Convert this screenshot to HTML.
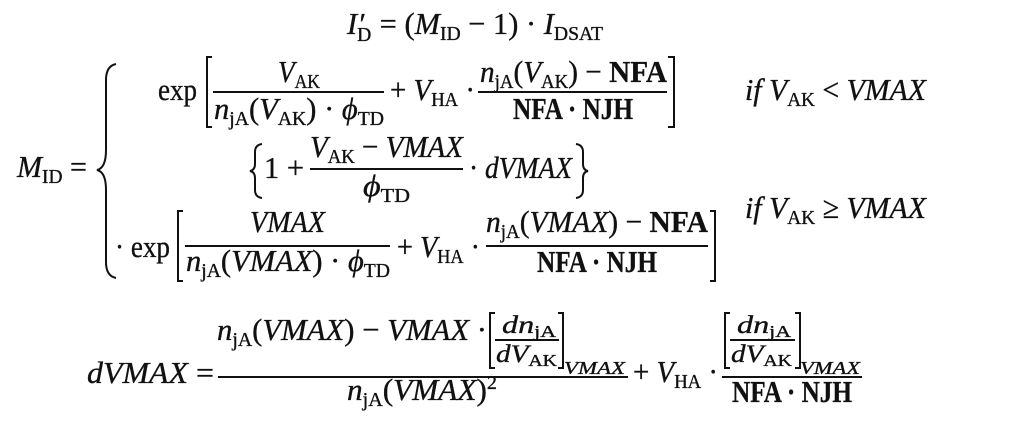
<!DOCTYPE html>
<html><head><meta charset="utf-8"><style>
html,body{margin:0;padding:0;background:#fff;}
svg{display:block;}
text{font-family:"Liberation Serif","DejaVu Serif",serif;font-size:31px;fill:#111;stroke:#111;stroke-width:0.35px;}
.i{font-style:italic;}
.b{font-weight:bold;}
.s{font-size:20px;font-style:normal;}
.sf{font-size:25px;}
.ss{font-size:17px;font-style:normal;}
</style></head><body>
<svg width="1013" height="427" viewBox="0 0 1013 427" xmlns="http://www.w3.org/2000/svg">
<g stroke="#111" stroke-width="2" fill="none">
 <path d="M116 64 Q106 66 106 80 L106 150 Q106 168 97 170 Q106 172 106 190 L106 262 Q106 276 116 278"/>
 <path d="M212 57 L207 57 L207 127 L212 127"/>
 <path d="M668 57 L674 57 L674 127 L668 127"/>
 <path d="M262 144 Q255 145 255 152 L255 164 Q255 170 250 171 Q255 172 255 178 L255 190 Q255 197 262 198"/>
 <path d="M576 144 Q583 145 583 152 L583 164 Q583 170 588 171 Q583 172 583 178 L583 190 Q583 197 576 198"/>
 <path d="M183 211 L178 211 L178 281 L183 281"/>
 <path d="M710 211 L715 211 L715 281 L710 281"/>
 <line x1="213" y1="92" x2="384" y2="92"/>
 <line x1="478" y1="92" x2="667" y2="92"/>
 <line x1="310" y1="169" x2="463" y2="169"/>
 <line x1="185" y1="246" x2="390" y2="246"/>
 <line x1="486" y1="246" x2="708" y2="246"/>
 <line x1="218" y1="377" x2="628" y2="377"/>
 <line x1="722" y1="377" x2="862" y2="377"/>
 <line x1="495" y1="340" x2="559" y2="340"/>
 <path d="M495 313 L490 313 L490 368 L495 368"/>
 <path d="M558 313 L563 313 L563 368 L558 368"/>
 <line x1="730" y1="340" x2="795" y2="340"/>
 <path d="M730 313 L725 313 L725 368 L730 368"/>
 <path d="M795 313 L800 313 L800 368 L795 368"/>
</g>

<text x="347" y="34" textLength="256" lengthAdjust="spacingAndGlyphs"><tspan class="i">I</tspan><tspan class="s i" dy="7">D</tspan><tspan dy="-7" dx="-12">′</tspan><tspan dx="6"> = (</tspan><tspan class="i">M</tspan><tspan class="s" dy="6">ID</tspan><tspan dy="-6"> − 1) · </tspan><tspan class="i">I</tspan><tspan class="s" dy="6">DSAT</tspan></text>

<text x="17" y="177" textLength="70" lengthAdjust="spacingAndGlyphs"><tspan class="i">M</tspan><tspan class="s" dy="6">ID</tspan><tspan dy="-6"> =</tspan></text>

<!-- row 1 -->
<text x="158" y="100" textLength="39" lengthAdjust="spacingAndGlyphs">exp</text>
<text x="278" y="82" textLength="42" lengthAdjust="spacingAndGlyphs"><tspan class="i">V</tspan><tspan class="s" dy="6">AK</tspan></text>
<text x="214" y="119" textLength="170" lengthAdjust="spacingAndGlyphs"><tspan class="i">n</tspan><tspan class="s" dy="6">jA</tspan><tspan dy="-6">(</tspan><tspan class="i">V</tspan><tspan class="s" dy="6">AK</tspan><tspan dy="-6">) · </tspan><tspan class="i">ϕ</tspan><tspan class="s" dy="6">TD</tspan></text>
<text x="390" y="100" textLength="85" lengthAdjust="spacingAndGlyphs">+ <tspan class="i">V</tspan><tspan class="s" dy="6">HA</tspan><tspan dy="-6"> ·</tspan></text>
<text x="480" y="82" textLength="187" lengthAdjust="spacingAndGlyphs"><tspan class="i">n</tspan><tspan class="s" dy="6">jA</tspan><tspan dy="-6">(</tspan><tspan class="i">V</tspan><tspan class="s" dy="6">AK</tspan><tspan dy="-6">) − </tspan><tspan class="b">NFA</tspan></text>
<text x="513" y="119" class="b" textLength="120" lengthAdjust="spacingAndGlyphs">NFA · NJH</text>
<text x="745" y="100" textLength="181" lengthAdjust="spacingAndGlyphs"><tspan class="i">if V</tspan><tspan class="s" dy="6">AK</tspan><tspan dy="-6"> &lt; </tspan><tspan class="i">VMAX</tspan></text>

<!-- row 2 -->
<text x="264" y="178" textLength="40" lengthAdjust="spacingAndGlyphs">1 +</text>
<text x="310" y="157" textLength="153" lengthAdjust="spacingAndGlyphs"><tspan class="i">V</tspan><tspan class="s" dy="6">AK</tspan><tspan dy="-6"> − </tspan><tspan class="i">VMAX</tspan></text>
<text x="363" y="196" textLength="47" lengthAdjust="spacingAndGlyphs"><tspan class="i">ϕ</tspan><tspan class="s" dy="6">TD</tspan></text>
<text x="469" y="178" textLength="103" lengthAdjust="spacingAndGlyphs">· <tspan class="i">dVMAX</tspan></text>

<!-- row 3 -->
<text x="115" y="257" textLength="55" lengthAdjust="spacingAndGlyphs">· exp</text>
<text x="250" y="232" class="i" textLength="75" lengthAdjust="spacingAndGlyphs">VMAX</text>
<text x="186" y="271" textLength="204" lengthAdjust="spacingAndGlyphs"><tspan class="i">n</tspan><tspan class="s" dy="6">jA</tspan><tspan dy="-6">(</tspan><tspan class="i">VMAX</tspan><tspan>) · </tspan><tspan class="i">ϕ</tspan><tspan class="s" dy="6">TD</tspan></text>
<text x="397" y="257" textLength="83" lengthAdjust="spacingAndGlyphs">+ <tspan class="i">V</tspan><tspan class="s" dy="6">HA</tspan><tspan dy="-6"> ·</tspan></text>
<text x="486" y="232" textLength="222" lengthAdjust="spacingAndGlyphs"><tspan class="i">n</tspan><tspan class="s" dy="6">jA</tspan><tspan dy="-6">(</tspan><tspan class="i">VMAX</tspan><tspan>) − </tspan><tspan class="b">NFA</tspan></text>
<text x="537" y="272" class="b" textLength="120" lengthAdjust="spacingAndGlyphs">NFA · NJH</text>
<text x="745" y="218" textLength="181" lengthAdjust="spacingAndGlyphs"><tspan class="i">if V</tspan><tspan class="s" dy="6">AK</tspan><tspan dy="-6"> ≥ </tspan><tspan class="i">VMAX</tspan></text>

<!-- bottom -->
<text x="87" y="383" textLength="127" lengthAdjust="spacingAndGlyphs"><tspan class="i">dVMAX</tspan> =</text>
<text x="217" y="340" textLength="270" lengthAdjust="spacingAndGlyphs"><tspan class="i">n</tspan><tspan class="s" dy="6">jA</tspan><tspan dy="-6">(</tspan><tspan class="i">VMAX</tspan><tspan>) − </tspan><tspan class="i">VMAX</tspan><tspan> ·</tspan></text>
<text x="502" y="333" class="sf" textLength="54" lengthAdjust="spacingAndGlyphs"><tspan class="i">dn</tspan><tspan class="ss" dy="4">jA</tspan></text>
<text x="496" y="362" class="sf" textLength="61" lengthAdjust="spacingAndGlyphs"><tspan class="i">dV</tspan><tspan class="ss" dy="4">AK</tspan></text>
<text x="564" y="374" class="i" style="font-size:18px" textLength="61" lengthAdjust="spacingAndGlyphs">VMAX</text>
<text x="347" y="400" textLength="150" lengthAdjust="spacingAndGlyphs"><tspan class="i">n</tspan><tspan class="s" dy="6">jA</tspan><tspan dy="-6">(</tspan><tspan class="i">VMAX</tspan><tspan>)</tspan><tspan class="s" dy="-11">2</tspan></text>
<text x="633" y="382" textLength="85" lengthAdjust="spacingAndGlyphs">+ <tspan class="i">V</tspan><tspan class="s" dy="6">HA</tspan><tspan dy="-6"> ·</tspan></text>
<text x="737" y="333" class="sf" textLength="54" lengthAdjust="spacingAndGlyphs"><tspan class="i">dn</tspan><tspan class="ss" dy="4">jA</tspan></text>
<text x="731" y="362" class="sf" textLength="61" lengthAdjust="spacingAndGlyphs"><tspan class="i">dV</tspan><tspan class="ss" dy="4">AK</tspan></text>
<text x="800" y="374" class="i" style="font-size:18px" textLength="60" lengthAdjust="spacingAndGlyphs">VMAX</text>
<text x="732" y="402" class="b" textLength="120" lengthAdjust="spacingAndGlyphs">NFA · NJH</text>
</svg>
</body></html>
